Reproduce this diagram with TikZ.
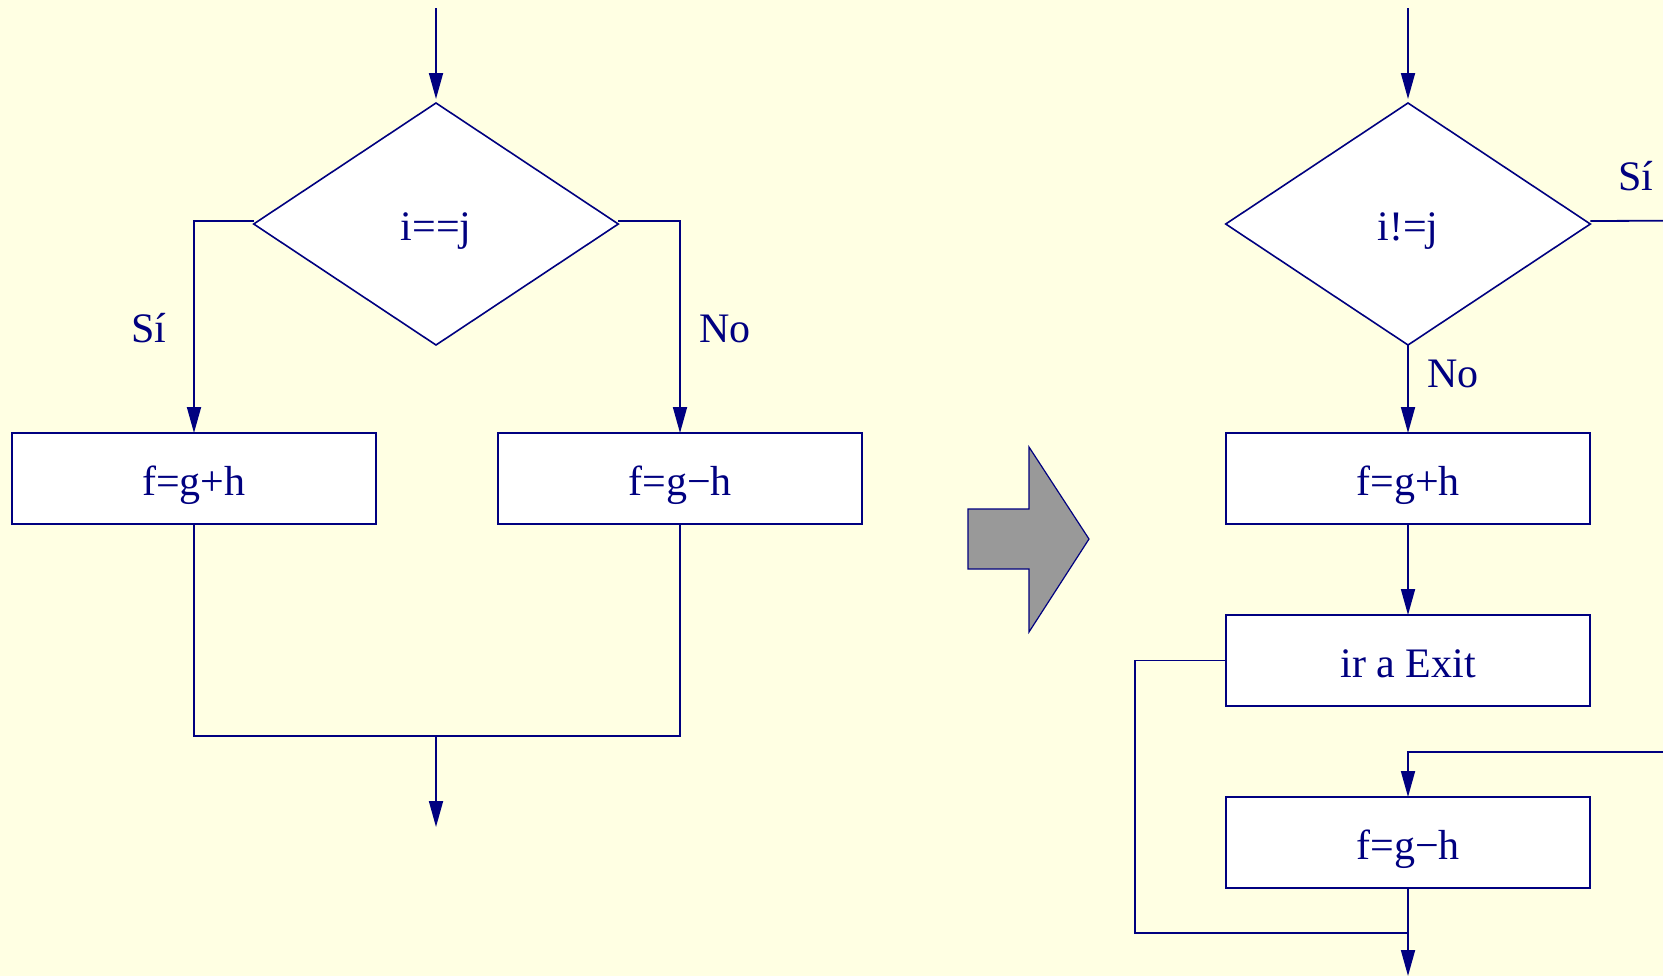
\documentclass[tikz,border=0pt]{standalone}
\usepackage{fontspec}
\setmainfont{Liberation Serif}
\usetikzlibrary{shapes.geometric,arrows.meta}
\definecolor{ink}{HTML}{000080}
\definecolor{paper}{HTML}{FFFFE3}
\definecolor{bolt}{HTML}{999999}
\begin{document}
\begin{tikzpicture}[x=0.5pt,y=-0.5pt,
  font=\fontsize{21}{25}\selectfont,
  wire/.style={draw=ink, line width=0.9pt},
  flow/.style={wire, -{Triangle[length=13pt,width=7pt]}},
  stepbox/.style={rectangle, draw=ink, fill=white, text=ink, line width=0.8pt,
    minimum width=182pt, minimum height=45.5pt, inner sep=0pt, outer sep=0pt,
    text height=16.6pt, text depth=0pt},
  test/.style={diamond, draw=ink, fill=white, text=ink, line width=0.8pt,
    minimum width=182.3pt, minimum height=121pt, inner sep=0pt, outer sep=0pt,
    text height=16.6pt, text depth=0pt},
  tag/.style={anchor=base, inner sep=0pt, text=ink}]

  % page
  \fill[paper] (0,0) rectangle (1663,976);
  \useasboundingbox (0,0) rectangle (1663,976);

  % ---- plain if/else ----
  \coordinate (inL) at (436,8);
  \node[test] (d1) at (436,224) {i==j};
  \node[stepbox] (b1) at (194,478.5) {f=g+h};
  \node[stepbox] (b2) at (680,478.5) {f=g−h};
  \coordinate (joinL) at (436,736.3);
  \coordinate (outL) at (436,827);

  \draw[flow, shorten >=2pt] (inL) -- (d1.north);
  \draw[flow] ([yshift=1.5pt]d1.west) -| (b1.north);
  \draw[flow] ([yshift=1.5pt]d1.east) -| (b2.north);
  \draw[wire] (b1.south) |- (joinL) -| (b2.south);
  \draw[flow] (joinL) -- (outL);

  \node[tag] (siL) at (149,342.6) {Sí};
  \node[tag] (noL) at (725,342.6) {No};

  % ---- transformation arrow ----
  \draw[draw=ink, line width=0.6pt, fill=bolt, line join=miter]
    (968,509) -- (1029,509) -- (1029,447) -- (1089,539) -- (1029,632)
    -- (1029,569) -- (968,569) -- cycle;

  % ---- version with jumps ----
  \coordinate (inR) at (1408,8);
  \node[test] (d2) at (1408,224) {i!=j};
  \node[stepbox] (b3) at (1408,478.5) {f=g+h};
  \node[stepbox] (ex) at (1408,660.5) {ir a Exit};
  \node[stepbox] (b4) at (1408,842.5) {f=g−h};
  \coordinate (siOut) at (1663,220.7);
  \coordinate (elseIn) at (1663,751.7);
  \coordinate (exitL) at (1135,933.3);
  \coordinate (exitJ) at (1408,933.3);
  \coordinate (outR) at (1408,976);

  \draw[flow, shorten >=2pt] (inR) -- (d2.north);
  \draw[wire] ([yshift=1.5pt]d2.east) -- (siOut);
  \draw[flow] (d2.south) -- (b3.north);
  \draw[flow] (b3.south) -- (ex.north);
  \draw[wire] (ex.west) -| (exitL) -- (exitJ);
  \draw[flow] (elseIn) -| (b4.north);
  \draw[flow] (b4.south) -- (outR);

  \node[tag] (siR) at (1636,190.7) {Sí};
  \node[tag] (noR) at (1453,387) {No};
\end{tikzpicture}
\end{document}
